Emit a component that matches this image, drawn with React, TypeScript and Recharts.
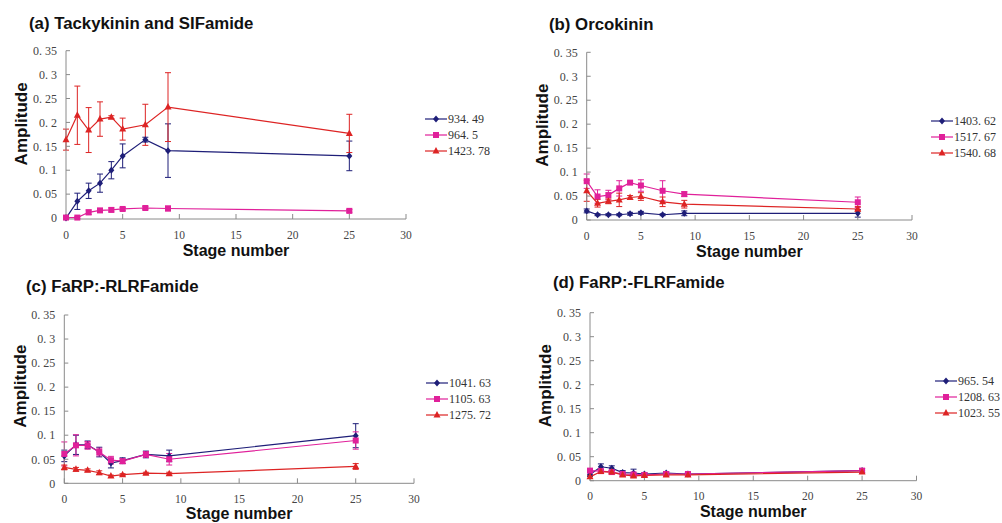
import React from 'react';
import { LineChart, Line, XAxis, YAxis, ErrorBar, Label } from 'recharts';

const stages = [0, 1, 2, 3, 4, 5, 7, 9, 25];

// (a) Tackykinin and SIFamide
const aBlue = [0, 0.035, 0.057, 0.073, 0.1, 0.13, 0.164, 0.141, 0.13];
const aBlueErr = [0.002, 0.017, 0.016, 0.019, 0.018, 0.025, 0.005, 0.056, 0.031];
const aPink = [0.001, 0.001, 0.012, 0.016, 0.017, 0.019, 0.021, 0.02, 0.015];
const aPinkErr = [0.002, 0.002, 0.005, 0.004, 0.004, 0.003, 0.003, 0.005, 0.003];
const aRed = [0.164, 0.215, 0.184, 0.207, 0.211, 0.186, 0.195, 0.232, 0.177];
const aRedErr = [0.022, 0.061, 0.047, 0.036, 0.003, 0.023, 0.043, 0.072, 0.04];
const aNames = ['934. 49', '964. 5', '1423. 78'];

// (b) Orcokinin
const bBlue = [0.019, 0.011, 0.011, 0.011, 0.013, 0.015, 0.011, 0.014, 0.014];
const bBlueErr = [0.004, 0.002, 0.002, 0.002, 0.003, 0.003, 0.002, 0.005, 0.008];
const bPink = [0.081, 0.049, 0.052, 0.066, 0.078, 0.072, 0.061, 0.054, 0.037];
const bPinkErr = [0.015, 0.014, 0.01, 0.016, 0.003, 0.012, 0.021, 0.005, 0.011];
const bRed = [0.061, 0.035, 0.039, 0.042, 0.047, 0.049, 0.038, 0.033, 0.023];
const bRedErr = [0.022, 0.008, 0.005, 0.014, 0.004, 0.008, 0.01, 0.008, 0.005];
const bNames = ['1403. 62', '1517. 67', '1540. 68'];

// (c) FaRP:-RLRFamide
const cBlue = [0.057, 0.08, 0.08, 0.065, 0.042, 0.047, 0.06, 0.057, 0.099];
const cBlueErr = [0.012, 0.02, 0.008, 0.01, 0.01, 0.006, 0.007, 0.012, 0.025];
const cPink = [0.061, 0.079, 0.079, 0.065, 0.048, 0.046, 0.06, 0.05, 0.089];
const cPinkErr = [0.025, 0.022, 0.008, 0.008, 0.008, 0.005, 0.006, 0.012, 0.018];
const cRed = [0.033, 0.029, 0.027, 0.022, 0.015, 0.018, 0.021, 0.02, 0.035];
const cRedErr = [0.005, 0.004, 0.003, 0.004, 0.002, 0.002, 0.002, 0.003, 0.006];
const cNames = ['1041. 63', '1105. 63', '1275. 72'];

// (d) FaRP:-FLRFamide
const dBlue = [0.013, 0.029, 0.026, 0.017, 0.016, 0.014, 0.016, 0.014, 0.021];
const dBlueErr = [0.004, 0.006, 0.005, 0.004, 0.008, 0.003, 0.003, 0.003, 0.004];
const dPink = [0.021, 0.02, 0.018, 0.014, 0.013, 0.012, 0.014, 0.014, 0.021];
const dPinkErr = [0.004, 0.004, 0.003, 0.003, 0.003, 0.002, 0.003, 0.003, 0.004];
const dRed = [0.008, 0.019, 0.018, 0.012, 0.01, 0.011, 0.012, 0.012, 0.018];
const dRedErr = [0.003, 0.003, 0.003, 0.003, 0.003, 0.002, 0.002, 0.002, 0.003];
const dNames = ['965. 54', '1208. 63', '1023. 55'];

const yTicks = [0, 0.05, 0.1, 0.15, 0.2, 0.25, 0.3, 0.35];
const xTicks = [0, 5, 10, 15, 20, 25, 30];

const BLUE = '#1e1e78';
const PINK = '#e0209a';
const RED = '#dd2424';
const AXIS = '#8a8a8a';
const SERIF = '"Liberation Serif", "DejaVu Serif", serif';
const SANS = '"Liberation Sans", Arial, sans-serif';

const fmtY = (v: number) => (v === 0 ? '0' : v.toFixed(2).replace(/0$/, '').replace('.', '. '));

const build = (s1: number[], e1: number[], s2: number[], e2: number[], s3: number[], e3: number[]) =>
  stages.map((stage, i) => ({ stage, s1: s1[i], e1: e1[i], s2: s2[i], e2: e2[i], s3: s3[i], e3: e3[i] }));

const Diamond = (props: any) => {
  const { cx, cy, index } = props;
  return <path key={`d-${index}`} d={`M${cx},${cy - 3.5}L${cx + 3},${cy}L${cx},${cy + 3.5}L${cx - 3},${cy}Z`} fill={BLUE} />;
};
const Square = (props: any) => {
  const { cx, cy, index } = props;
  return <rect key={`s-${index}`} x={cx - 3} y={cy - 3} width={6} height={6} fill={PINK} />;
};
const Triangle = (props: any) => {
  const { cx, cy, index } = props;
  return <path key={`t-${index}`} d={`M${cx},${cy - 4}L${cx + 3.5},${cy + 2.5}L${cx - 3.5},${cy + 2.5}Z`} fill={RED} />;
};

const shapes = [Diamond, Square, Triangle];
const colors = [BLUE, PINK, RED];

type Panel = {
  title: string;
  names: string[];
  data: any[];
  box: { x: number; y: number; w: number; h: number };
  plot: { l: number; r: number; t: number; b: number };
  titlePos: { x: number; y: number };
  legendPos: { x: number; y: number };
  xLabelDrop: number;
  yLabelShift: number;
};

const panels: Panel[] = [
  {
    title: '(a) Tackykinin and SIFamide',
    names: aNames,
    data: build(aBlue, aBlueErr, aPink, aPinkErr, aRed, aRedErr),
    box: { x: 0, y: 0, w: 501, h: 262 },
    plot: { l: 66, r: 406, t: 50.7, b: 219 },
    titlePos: { x: 29, y: 14 },
    legendPos: { x: 425, y: 111 },
    xLabelDrop: 36.7,
    yLabelShift: -11,
  },
  {
    title: '(b) Orcokinin',
    names: bNames,
    data: build(bBlue, bBlueErr, bPink, bPinkErr, bRed, bRedErr),
    box: { x: 501, y: 0, w: 501, h: 262 },
    plot: { l: 586.7, r: 912, t: 52.3, b: 220 },
    titlePos: { x: 549, y: 15 },
    legendPos: { x: 931, y: 113 },
    xLabelDrop: 36.5,
    yLabelShift: -11,
  },
  {
    title: '(c) FaRP:-RLRFamide',
    names: cNames,
    data: build(cBlue, cBlueErr, cPink, cPinkErr, cRed, cRedErr),
    box: { x: 0, y: 262, w: 501, h: 261 },
    plot: { l: 64.3, r: 414, t: 315, b: 483.3 },
    titlePos: { x: 26, y: 277 },
    legendPos: { x: 426, y: 375 },
    xLabelDrop: 35.5,
    yLabelShift: -13,
  },
  {
    title: '(d) FaRP:-FLRFamide',
    names: dNames,
    data: build(dBlue, dBlueErr, dPink, dPinkErr, dRed, dRedErr),
    box: { x: 501, y: 262, w: 501, h: 261 },
    plot: { l: 590, r: 916.5, t: 312.7, b: 480.7 },
    titlePos: { x: 553, y: 273 },
    legendPos: { x: 935, y: 373 },
    xLabelDrop: 36,
    yLabelShift: -11,
  },
];

const Y_W = 50;
const X_H = 38;

const LegendMarker = ({ idx }: { idx: number }) => (
  <svg width={22} height={10} style={{ display: 'block' }}>
    <line x1={0} y1={5} x2={22} y2={5} stroke={colors[idx]} strokeWidth={1.2} />
    {idx === 0 && <path d="M11,1.5L14,5L11,8.5L8,5Z" fill={BLUE} />}
    {idx === 1 && <rect x={8} y={2} width={6} height={6} fill={PINK} />}
    {idx === 2 && <path d="M11,1L14.5,7.5L7.5,7.5Z" fill={RED} />}
  </svg>
);

const ChartPanel = ({ p }: { p: Panel }) => {
  const margin = {
    top: p.plot.t - p.box.y,
    left: p.plot.l - p.box.x - Y_W,
    right: p.box.x + p.box.w - p.plot.r,
    bottom: p.box.y + p.box.h - p.plot.b - X_H,
  };
  const yTitle = (props: any) => {
    const vb = props.viewBox || {};
    const cx = vb.x + vb.width - 44;
    const cy = vb.y + vb.height / 2 + p.yLabelShift;
    return (
      <text
        x={cx}
        y={cy}
        transform={`rotate(-90 ${cx} ${cy})`}
        textAnchor="middle"
        dominantBaseline="central"
        fontFamily={SANS}
        fontWeight="bold"
        fontSize={17}
        fill="#111"
      >
        Amplitude
      </text>
    );
  };
  return (
    <>
      <div style={{ position: 'absolute', left: p.box.x, top: p.box.y }}>
        <LineChart width={p.box.w} height={p.box.h} data={p.data} margin={margin}>
          <XAxis
            dataKey="stage"
            type="number"
            domain={[0, 30]}
            ticks={xTicks}
            height={X_H}
            stroke={AXIS}
            tickSize={-5}
            tickMargin={16.5}
            tick={{ fill: '#444', fontSize: 11.5, fontFamily: SERIF }}
          >
            <Label
              value="Stage number"
              position="insideBottom"
              offset={X_H - p.xLabelDrop}
              style={{ fill: '#111', fontSize: 16, fontWeight: 'bold', fontFamily: SANS }}
            />
          </XAxis>
          <YAxis
            type="number"
            domain={[0, 0.35]}
            ticks={yTicks}
            width={Y_W}
            stroke={AXIS}
            tickSize={-4}
            tickMargin={13}
            tickFormatter={fmtY}
            tick={{ fill: '#444', fontSize: 12, fontFamily: SERIF }}
            label={{ content: yTitle }}
          />
          {['s1', 's2', 's3'].map((k, i) => (
            <Line
              key={k}
              dataKey={k}
              stroke={colors[i]}
              strokeWidth={1.2}
              dot={shapes[i]}
              activeDot={false}
              isAnimationActive={false}
            >
              <ErrorBar dataKey={`e${i + 1}`} width={3} stroke={colors[i]} strokeWidth={1} direction="y" />
            </Line>
          ))}
        </LineChart>
      </div>
      <div
        style={{
          position: 'absolute',
          left: p.titlePos.x,
          top: p.titlePos.y,
          fontFamily: SANS,
          fontWeight: 'bold',
          fontSize: 16.8,
          color: '#111',
          whiteSpace: 'nowrap',
        }}
      >
        {p.title}
      </div>
      <div style={{ position: 'absolute', left: p.legendPos.x, top: p.legendPos.y }}>
        {p.names.map((n, i) => (
          <div key={n} style={{ display: 'flex', alignItems: 'center', height: 16 }}>
            <LegendMarker idx={i} />
            <span style={{ fontFamily: SERIF, fontSize: 12, color: '#333', marginLeft: 1, whiteSpace: 'nowrap' }}>{n}</span>
          </div>
        ))}
      </div>
    </>
  );
};

export default function App() {
  return (
    <div style={{ position: 'absolute', left: 0, top: 0, width: 1002, height: 523, background: '#fff', overflow: 'hidden' }}>
      {panels.map((p) => (
        <ChartPanel key={p.title} p={p} />
      ))}
    </div>
  );
}
